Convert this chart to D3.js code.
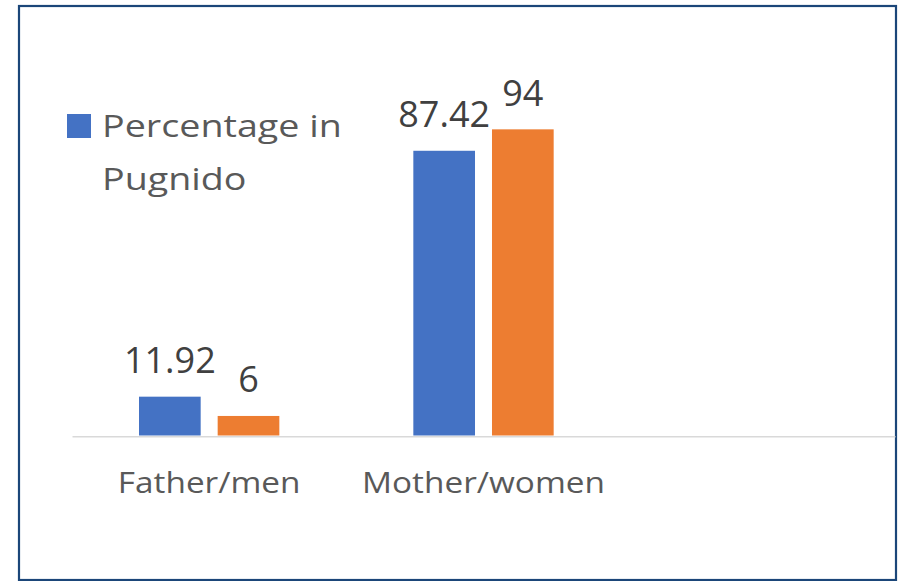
<!DOCTYPE html>
<html>
<head>
<meta charset="utf-8">
<script src="https://cdn.jsdelivr.net/npm/d3@7/dist/d3.min.js"></script>
<style>
  html, body { margin: 0; padding: 0; background: #fff; }
  svg { display: block; }
  text { font-family: "Open Sans", sans-serif; }
</style>
</head>
<body>
<svg id="chart" width="903" height="581"></svg>
<script>
// ---- data ----
const categories = ["Father/men", "Mother/women", ""];
const seriesNames = ["Percentage in Pugnido", "Series 2"];
const seriesPugnido = [11.92, 87.42, null];
const seriesSecond = [6, 94, null];
const seriesColors = ["#4472C4", "#ED7D31"];
const legendLines = ["Percentage in", "Pugnido"];

const svg = d3.select("#chart");

// border
svg.append("rect")
  .attr("x", 19).attr("y", 6).attr("width", 877).attr("height", 574)
  .attr("fill", "#fff").attr("stroke", "#1b4679").attr("stroke-width", 2.2);

const x0 = d3.scaleBand().domain(categories).range([72, 895]).paddingInner(0).paddingOuter(0);
const groupPad = 67;
const x1 = d3.scaleBand().domain(seriesNames)
  .range([groupPad, x0.bandwidth() - groupPad]).paddingInner(0.216).paddingOuter(0);
const y = d3.scaleLinear().domain([0, 100]).range([435.5, 109.8]);

const seriesValues = [seriesPugnido, seriesSecond];
const rows = [];
categories.forEach((c, i) => {
  seriesNames.forEach((s, j) => {
    const v = seriesValues[j][i];
    if (v != null) rows.push({ cat: c, series: s, value: v, color: seriesColors[j] });
  });
});

// bars
svg.append("g").selectAll("rect").data(rows).join("rect")
  .attr("x", d => x0(d.cat) + x1(d.series))
  .attr("y", d => y(d.value))
  .attr("width", x1.bandwidth())
  .attr("height", d => y(0) - y(d.value))
  .attr("fill", d => d.color);

// baseline axis
const axis = d3.axisBottom(x0).tickSize(0).tickFormat("");
const gAxis = svg.append("g").attr("transform", `translate(0,${y(0) + 0.8})`).call(axis);
gAxis.select(".domain").attr("stroke", "#d9d9d9").attr("stroke-width", 1.6);

// category labels
svg.append("g").selectAll("text").data(categories.filter(c => c !== "")).join("text")
  .attr("transform", d => `translate(${x0(d) + x0.bandwidth() / 2},493.3) scale(1.15,1)`)
  .attr("text-anchor", "middle")
  .attr("font-size", 29)
  .attr("fill", "#595959")
  .text(d => d);

// data labels
svg.append("g").selectAll("text").data(rows).join("text")
  .attr("x", d => x0(d.cat) + x1(d.series) + x1.bandwidth() / 2)
  .attr("y", d => y(d.value) - 23.5)
  .attr("text-anchor", "middle")
  .attr("font-size", 36)
  .attr("fill", "#404040")
  .text(d => d3.format("")(d.value));

// legend
const lg = svg.append("g");
lg.append("rect").attr("x", 67).attr("y", 114).attr("width", 24).attr("height", 24)
  .attr("fill", seriesColors[0]);
lg.selectAll("text").data(legendLines).join("text")
  .attr("transform", (d, i) => `translate(102,${136.7 + i * 53.3}) scale(1.235,1)`)
  .attr("font-size", 30.5)
  .attr("fill", "#595959")
  .text(d => d);
</script>
</body>
</html>
